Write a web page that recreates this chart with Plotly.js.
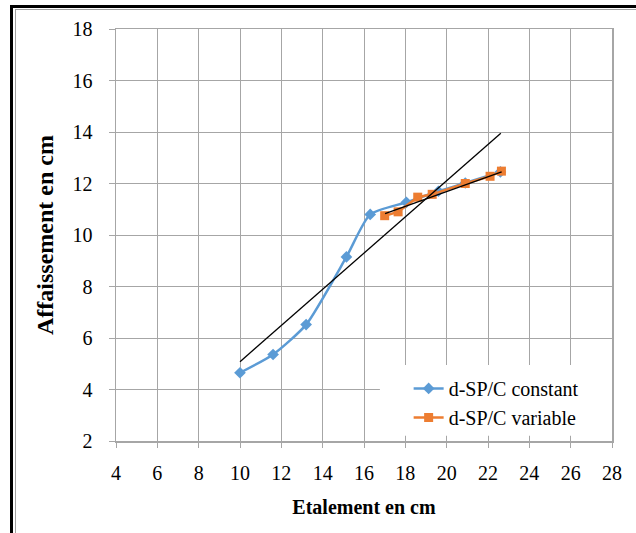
<!DOCTYPE html>
<html>
<head>
<meta charset="utf-8">
<script src="https://cdn.plot.ly/plotly-3.0.1.min.js"></script>
<style>
  html, body { margin: 0; padding: 0; background: #ffffff; overflow: hidden; }
  #wrap { position: relative; width: 636px; height: 533px; }
  #frameOuter { position: absolute; left: 10px; top: 5px; width: 700px; height: 600px;
                border-left: 3px solid #000; border-top: 3px solid #000; box-sizing: border-box; }
  #frameInner { position: absolute; left: 15px; top: 9px; width: 700px; height: 600px;
                border-left: 1px solid #a0a0a0; border-top: 1px solid #a0a0a0; box-sizing: border-box; }
  #chart { position: absolute; left: 0; top: 0; width: 636px; height: 533px; }
</style>
</head>
<body>
<div id="wrap">
  <div id="frameOuter"></div>
  <div id="frameInner"></div>
  <div id="chart"></div>
</div>
<script>
// ---- data ----
const constX = [10.0, 11.6, 13.2, 15.15, 16.3, 18.05, 19.6, 20.9, 22.6];
const constY = [4.65, 5.36, 6.52, 9.15, 10.8, 11.27, 11.7, 12.02, 12.45];
const varX = [17.0, 17.65, 18.6, 19.3, 20.9, 22.1, 22.65];
const varY = [10.75, 10.9, 11.47, 11.58, 12.0, 12.28, 12.48];
const trendConstX = [10.0, 22.62];
const trendConstY = [5.08, 13.95];
const trendVarX = [17.02, 22.66];
const trendVarY = [10.83, 12.45];
const seriesNames = ["d-SP/C constant", "d-SP/C variable"];
const xTicks = [4, 6, 8, 10, 12, 14, 16, 18, 20, 22, 24, 26, 28];
const yTicks = [2, 4, 6, 8, 10, 12, 14, 16, 18];

const serif = "'Liberation Serif', 'Times New Roman', Times, serif";
const gridCol = "#a6a6a6";

const traces = [
  { x: constX, y: constY, name: seriesNames[0], type: "scatter", mode: "lines+markers",
    line: { color: "#5b9bd5", width: 2.5, shape: "spline", smoothing: 0.6 },
    marker: { symbol: "diamond", size: 9, color: "#5b9bd5" } },
  { x: varX, y: varY, name: seriesNames[1], type: "scatter", mode: "lines+markers",
    line: { color: "#ed7d31", width: 2.5 },
    marker: { symbol: "square", size: 9, color: "#ed7d31" } },
  { x: trendConstX, y: trendConstY, type: "scatter", mode: "lines", showlegend: false,
    line: { color: "#000000", width: 1.3 }, hoverinfo: "skip" },
  { x: trendVarX, y: trendVarY, type: "scatter", mode: "lines", showlegend: false,
    line: { color: "#000000", width: 1.3 }, hoverinfo: "skip" }
];

const layout = {
  width: 636, height: 533,
  margin: { l: 116, r: 24, t: 29, b: 92 },
  paper_bgcolor: "rgba(0,0,0,0)",
  plot_bgcolor: "#ffffff",
  font: { family: serif, size: 20, color: "#000000" },
  showlegend: true,
  xaxis: {
    range: [4, 28], tickvals: xTicks, ticktext: xTicks.map(String),
    showgrid: true, gridcolor: gridCol, gridwidth: 1,
    showline: true, linecolor: gridCol, linewidth: 1.5, mirror: true,
    ticks: "outside", ticklen: 5, tickcolor: gridCol, tickwidth: 1,
    zeroline: false, ticklabelstandoff: 8,
    tickfont: { family: serif, size: 20, color: "#000" },
    title: { text: "<b>Etalement en cm</b>", font: { family: serif, size: 20, color: "#000" }, standoff: 17 }
  },
  yaxis: {
    range: [2, 18], tickvals: yTicks, ticktext: yTicks.map(String),
    showgrid: true, gridcolor: gridCol, gridwidth: 1,
    showline: true, linecolor: gridCol, linewidth: 1.5, mirror: true,
    ticks: "outside", ticklen: 6, tickcolor: gridCol, tickwidth: 1,
    zeroline: false, ticklabelstandoff: 12,
    tickfont: { family: serif, size: 20, color: "#000" },
    title: { text: "<b>Affaissement en cm</b>", font: { family: serif, size: 24, color: "#000" }, standoff: 12 }
  },
  shapes: [
    { type: "rect", xref: "x", yref: "y", x0: 16.77, x1: 28.0, y0: 2.2, y1: 4.95,
      fillcolor: "#ffffff", line: { width: 0 }, layer: "between" }
  ],
  legend: {
    x: 0.59, xanchor: "left", y: 0.175, yanchor: "top",
    bgcolor: "rgba(255,255,255,0)", borderwidth: 0,
    font: { family: serif, size: 20, color: "#000" },
    tracegroupgap: 0, itemwidth: 30
  }
};

Plotly.newPlot("chart", traces, layout, { displayModeBar: false, staticPlot: true });
</script>
</body>
</html>
